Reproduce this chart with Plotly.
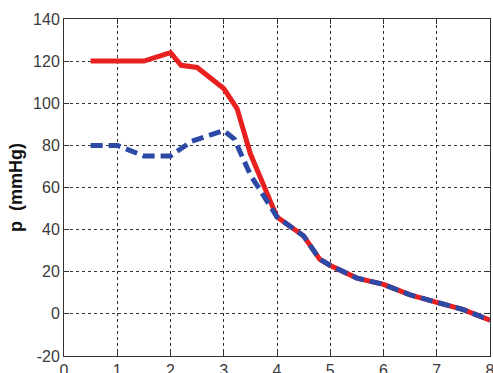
import plotly.graph_objects as go

x_red = [0.5, 1.0, 1.5, 2.0, 2.2, 2.5, 3.0, 3.25, 3.5, 3.9, 4.0, 4.5, 4.8, 5.0, 5.5, 6.0, 6.5, 7.0, 7.5, 8.0]
p_red = [120, 120, 120, 124, 118, 117, 107, 97.5, 76, 52, 46, 37, 26, 23, 17, 14, 9, 5.5, 2, -3]

x_blue = [0.5, 1.0, 1.5, 2.0, 2.4, 3.0, 3.2, 3.5, 4.0, 4.5, 4.8, 5.0, 5.5, 6.0, 6.5, 7.0, 7.5, 8.0]
p_blue = [80, 80, 75, 75, 82, 87, 83, 66, 46, 37, 26, 23, 17, 14, 9, 5.5, 2, -3]

x_ticks = [0, 1, 2, 3, 4, 5, 6, 7, 8]
y_ticks = [-20, 0, 20, 40, 60, 80, 100, 120, 140]

fig = go.Figure()
fig.add_trace(go.Scatter(x=x_red, y=p_red, mode="lines",
                         line=dict(color="#E8201F", width=5), showlegend=False))
fig.add_trace(go.Scatter(x=x_blue, y=p_blue, mode="lines",
                         line=dict(color="#2C49A6", width=5, dash="12px,6px"), showlegend=False))

axis_common = dict(showline=True, linecolor="#333", linewidth=1, mirror="ticks",
                   ticks="inside", ticklen=5, tickcolor="#333", automargin=False,
                   ticklabeloverflow="allow",
                   showgrid=True, gridcolor="#333", gridwidth=1, griddash="dot",
                   zeroline=False, tickfont=dict(family="Liberation Sans, Arial", size=16, color="#3a3a3a"))

fig.update_xaxes(range=[0, 8], tickvals=x_ticks, ticktext=[str(v) for v in x_ticks], **axis_common)
fig.update_yaxes(range=[-20, 140], tickvals=y_ticks, ticktext=[str(v) for v in y_ticks],
                 title=dict(text="p\u00a0\u00a0(mmHg)", standoff=5,
                            font=dict(family="Liberation Sans, Arial", size=18, color="#111", weight="bold")),
                 **axis_common)

fig.update_layout(width=493, height=373, margin=dict(l=63.5, r=2.5, t=19, b=17.3),
                  plot_bgcolor="white", paper_bgcolor="white")
fig.write_html("out.html", config={"displayModeBar": False},
               post_script="document.body.style.margin='0';document.body.style.overflow='hidden';")
